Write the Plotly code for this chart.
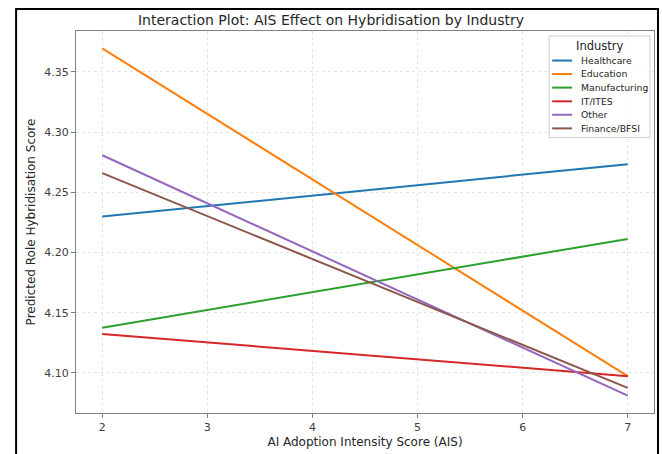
import plotly.graph_objects as go

industries = ["Healthcare", "Education", "Manufacturing", "IT/ITES", "Other", "Finance/BFSI"]
colors = ["#1f77b4", "#ff7f0e", "#2ca02c", "#d62728", "#9467bd", "#8c564b"]
ais = [2, 7]
pred_start = [4.2299, 4.3696, 4.1376, 4.1323, 4.2808, 4.2659]
pred_end = [4.2734, 4.0973, 4.2113, 4.0973, 4.0811, 4.0876]

W, H = 662, 454
L, R, T, B = 76, 7, 31, 39
PW, PH = W - L - R, H - T - B

def px(x):
    return (x - L) / PW

def py(y):
    return (H - B - y) / PH

fig = go.Figure()
for name, c, y0, y1 in zip(industries, colors, pred_start, pred_end):
    fig.add_trace(go.Scatter(x=ais, y=[y0, y1], mode="lines", name=name,
                             line=dict(color=c, width=2), showlegend=False))

shapes = []
annotations = []
# outer black frame (left, top, right edges)
frame_path = "M {a},{b} L {a},{c} L {d},{c} L {d},{b}".format(
    a=px(16), b=py(470), c=py(9), d=px(659))
shapes.append(dict(type="path", xref="paper", yref="paper", path=frame_path,
                   line=dict(color="black", width=2), layer="above"))
# legend box
shapes.append(dict(type="rect", xref="paper", yref="paper",
                   x0=px(550), x1=px(651), y0=py(138), y1=py(36),
                   line=dict(color="#cccccc", width=1), fillcolor="rgba(255,255,255,0.85)", layer="above"))
annotations.append(dict(xref="paper", yref="paper", x=px(600), y=py(46), text="Industry",
                        showarrow=False, xanchor="center", yanchor="middle",
                        font=dict(size=11.5, color="#262626")))
entry_y = [60.7, 74.2, 87.9, 101.7, 115.2, 128.9]
for name, c, ey in zip(industries, colors, entry_y):
    shapes.append(dict(type="line", xref="paper", yref="paper",
                       x0=px(553), x1=px(573), y0=py(ey), y1=py(ey),
                       line=dict(color=c, width=2), layer="above"))
    annotations.append(dict(xref="paper", yref="paper", x=px(580), y=py(ey), text=name,
                            showarrow=False, xanchor="left", yanchor="middle",
                            font=dict(size=9.3, color="#262626")))

fig.update_layout(
    width=W, height=H,
    margin=dict(l=L, r=R, t=T, b=B),
    paper_bgcolor="white", plot_bgcolor="white",
    font=dict(family="DejaVu Sans", color="#262626"),
    title=dict(text="Interaction Plot: AIS Effect on Hybridisation by Industry",
               x=px(365.5), xanchor="center", y=1 - 20 / H, yanchor="middle",
               font=dict(size=14, color="#262626")),
    shapes=shapes, annotations=annotations,
    showlegend=False,
)
axis_common = dict(showline=True, linecolor="#808080", linewidth=1, mirror=True,
                   ticks="outside", ticklen=4, tickcolor="#808080",
                   showgrid=True, gridcolor="#e4e4e4", griddash="3px,3px", gridwidth=0.8,
                   zeroline=False, tickfont=dict(size=11, color="#404040"))
fig.update_xaxes(range=[1.75, 7.25], tickvals=[2, 3, 4, 5, 6, 7],
                 title=dict(text="AI Adoption Intensity Score (AIS)", font=dict(size=12), standoff=4),
                 **axis_common)
fig.update_yaxes(range=[4.0667, 4.3840], tickvals=[4.10, 4.15, 4.20, 4.25, 4.30, 4.35],
                 tickformat=".2f",
                 title=dict(text="Predicted Role Hybridisation Score", font=dict(size=12), standoff=6),
                 **axis_common)

fig.write_html("out.html", config={"displayModeBar": False},
               post_script="document.body.style.margin='0';document.body.style.padding='0';")
